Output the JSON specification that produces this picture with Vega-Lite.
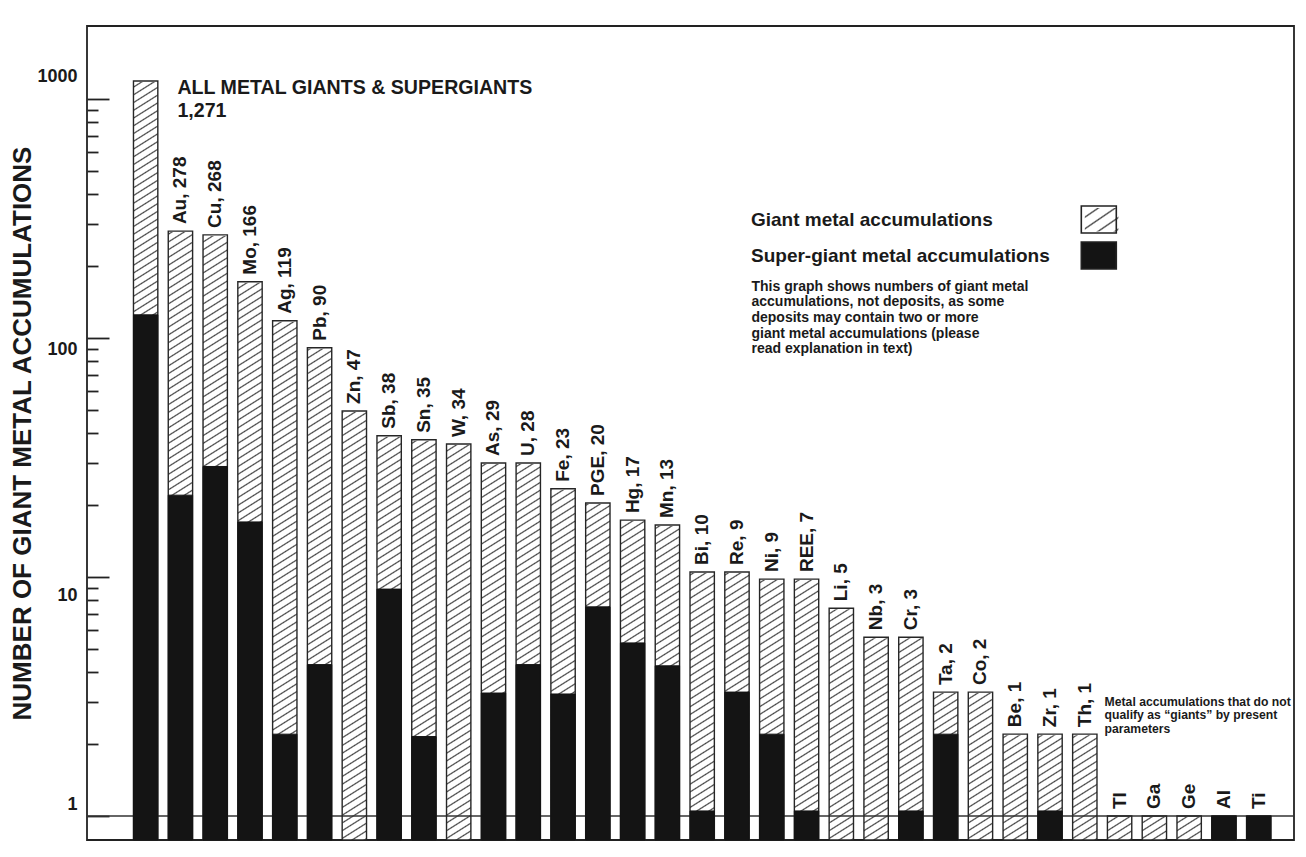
{
"$schema":"https://vega.github.io/schema/vega-lite/v6.json",
"width":1207,"height":814,
"autosize":{"type":"none"},
"padding":{"left":87,"top":26,"right":12,"bottom":17},
"background":"#ffffff",
"config":{"font":"Liberation Sans","view":{"stroke":"#222222","strokeWidth":1.8},"axis":{"labelFont":"Liberation Sans","titleFont":"Liberation Sans"}},
"data":{"values":[
{"metal":"All","label":"","giant":1190,"supergiant":125},
{"metal":"Au","label":"Au, 278","giant":280,"supergiant":22},
{"metal":"Cu","label":"Cu, 268","giant":270,"supergiant":29},
{"metal":"Mo","label":"Mo, 166","giant":172,"supergiant":17},
{"metal":"Ag","label":"Ag, 119","giant":118,"supergiant":2.2},
{"metal":"Pb","label":"Pb, 90","giant":91,"supergiant":4.3},
{"metal":"Zn","label":"Zn, 47","giant":49.5,"supergiant":0},
{"metal":"Sb","label":"Sb, 38","giant":39,"supergiant":8.9},
{"metal":"Sn","label":"Sn, 35","giant":37.5,"supergiant":2.15},
{"metal":"W","label":"W, 34","giant":36,"supergiant":0},
{"metal":"As","label":"As, 29","giant":30,"supergiant":3.27},
{"metal":"U","label":"U, 28","giant":30,"supergiant":4.3},
{"metal":"Fe","label":"Fe, 23","giant":23.4,"supergiant":3.24},
{"metal":"PGE","label":"PGE, 20","giant":20.4,"supergiant":7.5},
{"metal":"Hg","label":"Hg, 17","giant":17.3,"supergiant":5.3},
{"metal":"Mn","label":"Mn, 13","giant":16.5,"supergiant":4.25},
{"metal":"Bi","label":"Bi, 10","giant":10.5,"supergiant":1.05},
{"metal":"Re","label":"Re, 9","giant":10.5,"supergiant":3.3},
{"metal":"Ni","label":"Ni, 9","giant":9.8,"supergiant":2.2},
{"metal":"REE","label":"REE, 7","giant":9.8,"supergiant":1.05},
{"metal":"Li","label":"Li, 5","giant":7.4,"supergiant":0},
{"metal":"Nb","label":"Nb, 3","giant":5.6,"supergiant":0},
{"metal":"Cr","label":"Cr, 3","giant":5.6,"supergiant":1.05},
{"metal":"Ta","label":"Ta, 2","giant":3.3,"supergiant":2.2},
{"metal":"Co","label":"Co, 2","giant":3.3,"supergiant":0},
{"metal":"Be","label":"Be, 1","giant":2.2,"supergiant":0},
{"metal":"Zr","label":"Zr, 1","giant":2.2,"supergiant":1.05},
{"metal":"Th","label":"Th, 1","giant":2.2,"supergiant":0},
{"metal":"Tl","label":"Tl","giant":1,"supergiant":0},
{"metal":"Ga","label":"Ga","giant":1,"supergiant":0},
{"metal":"Ge","label":"Ge","giant":1,"supergiant":0},
{"metal":"Al","label":"Al","giant":1,"supergiant":1},
{"metal":"Ti","label":"Ti","giant":1,"supergiant":1}
]},
"layer":[
{"mark":{"type":"bar","strokeWidth":0,"fill":{"gradient":"linear","x1":0,"y1":0,"x2":0.0206,"y2":1.02,"stops":[
{"offset":0.0062,"color":"#fff"},{"offset":0.008,"color":"#444"},{"offset":0.0098,"color":"#fff"},
{"offset":0.0162,"color":"#fff"},{"offset":0.018,"color":"#444"},{"offset":0.0198,"color":"#fff"},
{"offset":0.0262,"color":"#fff"},{"offset":0.028,"color":"#444"},{"offset":0.0298,"color":"#fff"},
{"offset":0.0362,"color":"#fff"},{"offset":0.038,"color":"#444"},{"offset":0.0398,"color":"#fff"},
{"offset":0.0462,"color":"#fff"},{"offset":0.048,"color":"#444"},{"offset":0.0498,"color":"#fff"},
{"offset":0.0562,"color":"#fff"},{"offset":0.058,"color":"#444"},{"offset":0.0598,"color":"#fff"},
{"offset":0.0662,"color":"#fff"},{"offset":0.068,"color":"#444"},{"offset":0.0698,"color":"#fff"},
{"offset":0.0762,"color":"#fff"},{"offset":0.078,"color":"#444"},{"offset":0.0798,"color":"#fff"},
{"offset":0.0862,"color":"#fff"},{"offset":0.088,"color":"#444"},{"offset":0.0898,"color":"#fff"},
{"offset":0.0962,"color":"#fff"},{"offset":0.098,"color":"#444"},{"offset":0.0998,"color":"#fff"},
{"offset":0.1062,"color":"#fff"},{"offset":0.108,"color":"#444"},{"offset":0.1098,"color":"#fff"},
{"offset":0.1162,"color":"#fff"},{"offset":0.118,"color":"#444"},{"offset":0.1198,"color":"#fff"},
{"offset":0.1262,"color":"#fff"},{"offset":0.128,"color":"#444"},{"offset":0.1298,"color":"#fff"},
{"offset":0.1362,"color":"#fff"},{"offset":0.138,"color":"#444"},{"offset":0.1398,"color":"#fff"},
{"offset":0.1462,"color":"#fff"},{"offset":0.148,"color":"#444"},{"offset":0.1498,"color":"#fff"},
{"offset":0.1562,"color":"#fff"},{"offset":0.158,"color":"#444"},{"offset":0.1598,"color":"#fff"},
{"offset":0.1662,"color":"#fff"},{"offset":0.168,"color":"#444"},{"offset":0.1698,"color":"#fff"},
{"offset":0.1762,"color":"#fff"},{"offset":0.178,"color":"#444"},{"offset":0.1798,"color":"#fff"},
{"offset":0.1862,"color":"#fff"},{"offset":0.188,"color":"#444"},{"offset":0.1898,"color":"#fff"},
{"offset":0.1962,"color":"#fff"},{"offset":0.198,"color":"#444"},{"offset":0.1998,"color":"#fff"},
{"offset":0.2062,"color":"#fff"},{"offset":0.208,"color":"#444"},{"offset":0.2098,"color":"#fff"},
{"offset":0.2162,"color":"#fff"},{"offset":0.218,"color":"#444"},{"offset":0.2198,"color":"#fff"},
{"offset":0.2262,"color":"#fff"},{"offset":0.228,"color":"#444"},{"offset":0.2298,"color":"#fff"},
{"offset":0.2362,"color":"#fff"},{"offset":0.238,"color":"#444"},{"offset":0.2398,"color":"#fff"},
{"offset":0.2462,"color":"#fff"},{"offset":0.248,"color":"#444"},{"offset":0.2498,"color":"#fff"},
{"offset":0.2562,"color":"#fff"},{"offset":0.258,"color":"#444"},{"offset":0.2598,"color":"#fff"},
{"offset":0.2662,"color":"#fff"},{"offset":0.268,"color":"#444"},{"offset":0.2698,"color":"#fff"},
{"offset":0.2762,"color":"#fff"},{"offset":0.278,"color":"#444"},{"offset":0.2798,"color":"#fff"},
{"offset":0.2862,"color":"#fff"},{"offset":0.288,"color":"#444"},{"offset":0.2898,"color":"#fff"},
{"offset":0.2962,"color":"#fff"},{"offset":0.298,"color":"#444"},{"offset":0.2998,"color":"#fff"},
{"offset":0.3062,"color":"#fff"},{"offset":0.308,"color":"#444"},{"offset":0.3098,"color":"#fff"},
{"offset":0.3162,"color":"#fff"},{"offset":0.318,"color":"#444"},{"offset":0.3198,"color":"#fff"},
{"offset":0.3262,"color":"#fff"},{"offset":0.328,"color":"#444"},{"offset":0.3298,"color":"#fff"},
{"offset":0.3362,"color":"#fff"},{"offset":0.338,"color":"#444"},{"offset":0.3398,"color":"#fff"},
{"offset":0.3462,"color":"#fff"},{"offset":0.348,"color":"#444"},{"offset":0.3498,"color":"#fff"},
{"offset":0.3562,"color":"#fff"},{"offset":0.358,"color":"#444"},{"offset":0.3598,"color":"#fff"},
{"offset":0.3662,"color":"#fff"},{"offset":0.368,"color":"#444"},{"offset":0.3698,"color":"#fff"},
{"offset":0.3762,"color":"#fff"},{"offset":0.378,"color":"#444"},{"offset":0.3798,"color":"#fff"},
{"offset":0.3862,"color":"#fff"},{"offset":0.388,"color":"#444"},{"offset":0.3898,"color":"#fff"},
{"offset":0.3962,"color":"#fff"},{"offset":0.398,"color":"#444"},{"offset":0.3998,"color":"#fff"},
{"offset":0.4062,"color":"#fff"},{"offset":0.408,"color":"#444"},{"offset":0.4098,"color":"#fff"},
{"offset":0.4162,"color":"#fff"},{"offset":0.418,"color":"#444"},{"offset":0.4198,"color":"#fff"},
{"offset":0.4262,"color":"#fff"},{"offset":0.428,"color":"#444"},{"offset":0.4298,"color":"#fff"},
{"offset":0.4362,"color":"#fff"},{"offset":0.438,"color":"#444"},{"offset":0.4398,"color":"#fff"},
{"offset":0.4462,"color":"#fff"},{"offset":0.448,"color":"#444"},{"offset":0.4498,"color":"#fff"},
{"offset":0.4562,"color":"#fff"},{"offset":0.458,"color":"#444"},{"offset":0.4598,"color":"#fff"},
{"offset":0.4662,"color":"#fff"},{"offset":0.468,"color":"#444"},{"offset":0.4698,"color":"#fff"},
{"offset":0.4762,"color":"#fff"},{"offset":0.478,"color":"#444"},{"offset":0.4798,"color":"#fff"},
{"offset":0.4862,"color":"#fff"},{"offset":0.488,"color":"#444"},{"offset":0.4898,"color":"#fff"},
{"offset":0.4962,"color":"#fff"},{"offset":0.498,"color":"#444"},{"offset":0.4998,"color":"#fff"},
{"offset":0.5062,"color":"#fff"},{"offset":0.508,"color":"#444"},{"offset":0.5098,"color":"#fff"},
{"offset":0.5162,"color":"#fff"},{"offset":0.518,"color":"#444"},{"offset":0.5198,"color":"#fff"},
{"offset":0.5262,"color":"#fff"},{"offset":0.528,"color":"#444"},{"offset":0.5298,"color":"#fff"},
{"offset":0.5362,"color":"#fff"},{"offset":0.538,"color":"#444"},{"offset":0.5398,"color":"#fff"},
{"offset":0.5462,"color":"#fff"},{"offset":0.548,"color":"#444"},{"offset":0.5498,"color":"#fff"},
{"offset":0.5562,"color":"#fff"},{"offset":0.558,"color":"#444"},{"offset":0.5598,"color":"#fff"},
{"offset":0.5662,"color":"#fff"},{"offset":0.568,"color":"#444"},{"offset":0.5698,"color":"#fff"},
{"offset":0.5762,"color":"#fff"},{"offset":0.578,"color":"#444"},{"offset":0.5798,"color":"#fff"},
{"offset":0.5862,"color":"#fff"},{"offset":0.588,"color":"#444"},{"offset":0.5898,"color":"#fff"},
{"offset":0.5962,"color":"#fff"},{"offset":0.598,"color":"#444"},{"offset":0.5998,"color":"#fff"},
{"offset":0.6062,"color":"#fff"},{"offset":0.608,"color":"#444"},{"offset":0.6098,"color":"#fff"},
{"offset":0.6162,"color":"#fff"},{"offset":0.618,"color":"#444"},{"offset":0.6198,"color":"#fff"},
{"offset":0.6262,"color":"#fff"},{"offset":0.628,"color":"#444"},{"offset":0.6298,"color":"#fff"},
{"offset":0.6362,"color":"#fff"},{"offset":0.638,"color":"#444"},{"offset":0.6398,"color":"#fff"},
{"offset":0.6462,"color":"#fff"},{"offset":0.648,"color":"#444"},{"offset":0.6498,"color":"#fff"},
{"offset":0.6562,"color":"#fff"},{"offset":0.658,"color":"#444"},{"offset":0.6598,"color":"#fff"},
{"offset":0.6662,"color":"#fff"},{"offset":0.668,"color":"#444"},{"offset":0.6698,"color":"#fff"},
{"offset":0.6762,"color":"#fff"},{"offset":0.678,"color":"#444"},{"offset":0.6798,"color":"#fff"},
{"offset":0.6862,"color":"#fff"},{"offset":0.688,"color":"#444"},{"offset":0.6898,"color":"#fff"},
{"offset":0.6962,"color":"#fff"},{"offset":0.698,"color":"#444"},{"offset":0.6998,"color":"#fff"},
{"offset":0.7062,"color":"#fff"},{"offset":0.708,"color":"#444"},{"offset":0.7098,"color":"#fff"},
{"offset":0.7162,"color":"#fff"},{"offset":0.718,"color":"#444"},{"offset":0.7198,"color":"#fff"},
{"offset":0.7262,"color":"#fff"},{"offset":0.728,"color":"#444"},{"offset":0.7298,"color":"#fff"},
{"offset":0.7362,"color":"#fff"},{"offset":0.738,"color":"#444"},{"offset":0.7398,"color":"#fff"},
{"offset":0.7462,"color":"#fff"},{"offset":0.748,"color":"#444"},{"offset":0.7498,"color":"#fff"},
{"offset":0.7562,"color":"#fff"},{"offset":0.758,"color":"#444"},{"offset":0.7598,"color":"#fff"},
{"offset":0.7662,"color":"#fff"},{"offset":0.768,"color":"#444"},{"offset":0.7698,"color":"#fff"},
{"offset":0.7762,"color":"#fff"},{"offset":0.778,"color":"#444"},{"offset":0.7798,"color":"#fff"},
{"offset":0.7862,"color":"#fff"},{"offset":0.788,"color":"#444"},{"offset":0.7898,"color":"#fff"},
{"offset":0.7962,"color":"#fff"},{"offset":0.798,"color":"#444"},{"offset":0.7998,"color":"#fff"},
{"offset":0.8062,"color":"#fff"},{"offset":0.808,"color":"#444"},{"offset":0.8098,"color":"#fff"},
{"offset":0.8162,"color":"#fff"},{"offset":0.818,"color":"#444"},{"offset":0.8198,"color":"#fff"},
{"offset":0.8262,"color":"#fff"},{"offset":0.828,"color":"#444"},{"offset":0.8298,"color":"#fff"},
{"offset":0.8362,"color":"#fff"},{"offset":0.838,"color":"#444"},{"offset":0.8398,"color":"#fff"},
{"offset":0.8462,"color":"#fff"},{"offset":0.848,"color":"#444"},{"offset":0.8498,"color":"#fff"},
{"offset":0.8562,"color":"#fff"},{"offset":0.858,"color":"#444"},{"offset":0.8598,"color":"#fff"},
{"offset":0.8662,"color":"#fff"},{"offset":0.868,"color":"#444"},{"offset":0.8698,"color":"#fff"},
{"offset":0.8762,"color":"#fff"},{"offset":0.878,"color":"#444"},{"offset":0.8798,"color":"#fff"},
{"offset":0.8862,"color":"#fff"},{"offset":0.888,"color":"#444"},{"offset":0.8898,"color":"#fff"},
{"offset":0.8962,"color":"#fff"},{"offset":0.898,"color":"#444"},{"offset":0.8998,"color":"#fff"},
{"offset":0.9062,"color":"#fff"},{"offset":0.908,"color":"#444"},{"offset":0.9098,"color":"#fff"},
{"offset":0.9162,"color":"#fff"},{"offset":0.918,"color":"#444"},{"offset":0.9198,"color":"#fff"},
{"offset":0.9262,"color":"#fff"},{"offset":0.928,"color":"#444"},{"offset":0.9298,"color":"#fff"},
{"offset":0.9362,"color":"#fff"},{"offset":0.938,"color":"#444"},{"offset":0.9398,"color":"#fff"},
{"offset":0.9462,"color":"#fff"},{"offset":0.948,"color":"#444"},{"offset":0.9498,"color":"#fff"},
{"offset":0.9562,"color":"#fff"},{"offset":0.958,"color":"#444"},{"offset":0.9598,"color":"#fff"},
{"offset":0.9662,"color":"#fff"},{"offset":0.968,"color":"#444"},{"offset":0.9698,"color":"#fff"},
{"offset":0.9762,"color":"#fff"},{"offset":0.978,"color":"#444"},{"offset":0.9798,"color":"#fff"},
{"offset":0.9862,"color":"#fff"},{"offset":0.988,"color":"#444"},{"offset":0.9898,"color":"#fff"},
{"offset":0.9962,"color":"#fff"},{"offset":0.998,"color":"#444"},{"offset":0.9998,"color":"#fff"}
]}},
 "encoding":{
  "x":{"field":"metal","type":"nominal","axis":null,"scale":{"type":"band","domain":["All","Au","Cu","Mo","Ag","Pb","Zn","Sb","Sn","W","As","U","Fe","PGE","Hg","Mn","Bi","Re","Ni","REE","Li","Nb","Cr","Ta","Co","Be","Zr","Th","Tl","Ga","Ge","Al","Ti"],"paddingInner":0.3,"paddingOuter":1.286,"align":0.668}},
  "y":{"datum":0.7936,"type":"quantitative","scale":{"type":"log","domain":[0.7936,2020],"nice":false,"zero":false},
   "axis":{"orient":"left","values":[1,10,100,1000],"labels":false,"title":null,"grid":false,"tickSize":-22,"tickWidth":1.8,"tickColor":"#222222","domain":false}},
  "y2":{"datum":1190}}},
{"mark":{"type":"bar","fill":"#ffffff","stroke":"#ffffff","strokeWidth":2},
 "encoding":{
  "x":{"field":"metal","type":"nominal","axis":null},
  "y":{"field":"giant","type":"quantitative","axis":{"orient":"left","values":[2,3,4,5,6,7,8,9,20,30,40,50,60,70,80,90,200,300,400,500,600,700,800,900],"labels":false,"title":null,"grid":false,"tickSize":-11,"tickWidth":1.8,"tickColor":"#222222","domain":false}},
  "y2":{"datum":1190}}},
{"data":{"values":[{}]},"mark":{"type":"rule","stroke":"#333333","strokeWidth":1.6},
 "encoding":{"y":{"datum":1,"type":"quantitative","axis":null}}},
{"mark":{"type":"bar","fillOpacity":0,"stroke":"#262626","strokeWidth":1.4},
 "encoding":{
  "x":{"field":"metal","type":"nominal","axis":null},
  "y":{"field":"giant","type":"quantitative","axis":{"orient":"left","values":[1.12,8.33,89.9,1236],"ticks":false,"domain":false,"grid":false,"labelExpr":"datum.value > 500 ? '1000' : datum.value > 50 ? '100' : datum.value > 5 ? '10' : '1'","labelFontSize":18,"labelFontWeight":"bold","labelColor":"#1a1a1a","labelPadding":10,"labelFlush":false,"labelOverlap":false,"title":"NUMBER OF GIANT METAL ACCUMULATIONS","titleFont":"Liberation Sans","titleFontSize":26,"titleFontWeight":"bold","titleColor":"#1a1a1a","titleX":-65,"titleY":407,"titleAngle":270,"titleBaseline":"middle","titleAlign":"center"}},
  "y2":{"datum":0.7936},
  "fill":{"datum":"Giant metal accumulations","type":"nominal","scale":{"domain":["Giant metal accumulations","Super-giant metal accumulations"],"range":["transparent","#141414"]},
   "legend":{"orient":"none","legendX":664,"legendY":175,"title":null,"direction":"vertical","padding":0,"labelFont":"Liberation Sans","labelFontSize":19,"labelFontWeight":"bold","labelColor":"#1a1a1a","labelLimit":500,"symbolType":"M-1,-0.77H1V0.77H-1Z","symbolSize":1225,"symbolStrokeColor":"#222222","symbolStrokeWidth":1.6,"symbolOpacity":1,"rowPadding":-1,
    "encode":{"labels":{"update":{"x":{"value":0}}},
     "symbols":{"update":{"x":{"value":347.8},"opacity":{"value":1},"stroke":{"value":"#222222"},"strokeWidth":{"value":1.6},"strokeOpacity":{"value":1}}}}}}}},
{"transform":[{"filter":"datum.supergiant > 0"}],
 "mark":{"type":"bar","stroke":"#141414","strokeWidth":1},
 "encoding":{
  "x":{"field":"metal","type":"nominal","axis":null},
  "y":{"field":"supergiant","type":"quantitative","axis":null},
  "y2":{"datum":0.7936},
  "fill":{"datum":"Super-giant metal accumulations","type":"nominal"}}},
{"transform":[{"filter":"datum.label != ''"}],
 "mark":{"type":"text","angle":270,"align":"left","baseline":"middle","dx":7,"fontSize":19,"fontWeight":"bold","fill":"#1a1a1a"},
 "encoding":{
  "x":{"field":"metal","type":"nominal","axis":null},
  "y":{"field":"giant","type":"quantitative","axis":null},
  "text":{"field":"label"}}},
{"data":{"values":[{}]},
 "mark":{"type":"rect","strokeWidth":0,"fill":{"gradient":"linear","x1":0,"y1":0,"x2":0.9858,"y2":1.0139,"stops":[
        {"offset":0.165,"color":"#fff"},{"offset":0.2,"color":"#444"},{"offset":0.235,"color":"#fff"},
        {"offset":0.415,"color":"#fff"},{"offset":0.45,"color":"#444"},{"offset":0.485,"color":"#fff"},
        {"offset":0.665,"color":"#fff"},{"offset":0.7,"color":"#444"},{"offset":0.735,"color":"#fff"},
        {"offset":0.915,"color":"#fff"},{"offset":0.95,"color":"#444"},{"offset":0.985,"color":"#fff"}]}},
 "encoding":{"x":{"datum":"Th","type":"nominal","bandPosition":0.5,"axis":null},"x2":{"datum":"Tl","bandPosition":0.45},
  "y":{"datum":350,"type":"quantitative","axis":null},"y2":{"datum":279}}},
{"data":{"values":[{}]},
 "mark":{"type":"text","align":"left","baseline":"middle","dx":-3,"fontSize":19.6,"fontWeight":"bold","fill":"#1a1a1a","text":"ALL METAL GIANTS & SUPERGIANTS"},
 "encoding":{"x":{"datum":"Au","type":"nominal","axis":null},"y":{"datum":1112,"type":"quantitative","axis":null}}},
{"data":{"values":[{}]},
 "mark":{"type":"text","align":"left","baseline":"middle","dx":-3,"fontSize":19.6,"fontWeight":"bold","fill":"#1a1a1a","text":"1,271"},
 "encoding":{"x":{"datum":"Au","type":"nominal","axis":null},"y":{"datum":891,"type":"quantitative","axis":null}}},
{"data":{"values":[{}]},
 "mark":{"type":"text","align":"left","baseline":"middle","dx":14.5,"fontSize":14,"fontWeight":"bold","lineHeight":15.6,"fill":"#1a1a1a","text":["This graph shows numbers of giant metal","accumulations, not deposits, as some","deposits may contain two or more","giant metal accumulations (please","read explanation in text)"]},
 "encoding":{"x":{"datum":"Re","type":"nominal","axis":null},"y":{"datum":163.6,"type":"quantitative","axis":null}}},
{"data":{"values":[{}]},
 "mark":{"type":"text","align":"left","baseline":"middle","dx":19.8,"fontSize":12.2,"fontWeight":"bold","lineHeight":13.3,"fill":"#1a1a1a","text":["Metal accumulations that do not","qualify as \u201cgiants\u201d by present"," parameters"]},
 "encoding":{"x":{"datum":"Th","type":"nominal","axis":null},"y":{"datum":3.0,"type":"quantitative","axis":null}}}
],
"resolve":{"axis":{"y":"independent"}}
}
